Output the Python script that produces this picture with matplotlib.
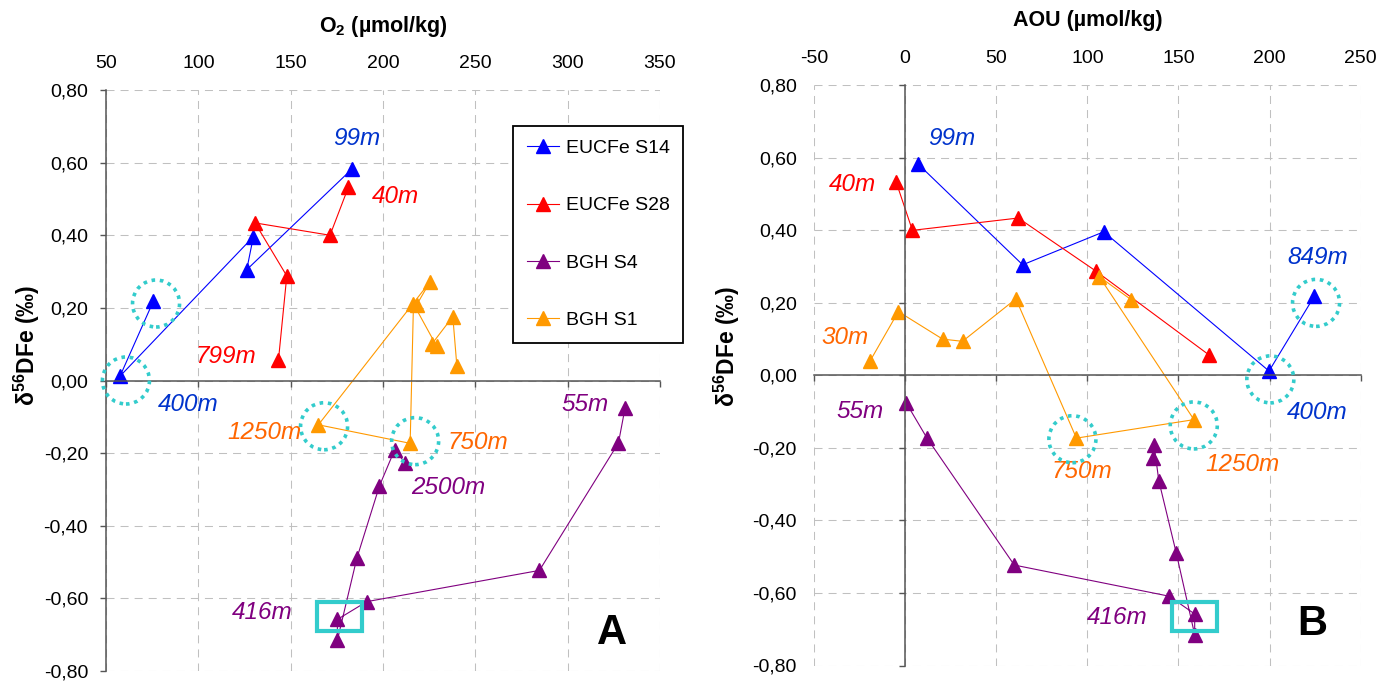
import numpy as np
import matplotlib
matplotlib.use('Agg')
import matplotlib.pyplot as plt
from matplotlib.ticker import MultipleLocator, FuncFormatter
from matplotlib.patches import Circle, Rectangle
from matplotlib.transforms import ScaledTranslation

plt.rcParams['font.family'] = ['Liberation Sans', 'DejaVu Sans']
plt.rcParams['mathtext.fontset'] = 'custom'
plt.rcParams['mathtext.rm'] = 'Liberation Sans'
plt.rcParams['mathtext.bf'] = 'Liberation Sans:bold'
plt.rcParams['axes.unicode_minus'] = False

# data
series = ['EUCFe S14', 'EUCFe S28', 'BGH S4', 'BGH S1']
colors = ['#0000FF', '#FF0000', '#800080', '#FF9900']

s14_o2 = [183.1, 126.2, 129.8, 57.6, 75.6]
s14_aou = [7.3, 64.5, 109.0, 199.7, 224.5]
s14_dfe = [0.582, 0.305, 0.396, 0.012, 0.218]

s28_o2 = [181.3, 171.3, 130.7, 147.9, 143.4]
s28_aou = [-4.9, 4.0, 62.1, 104.6, 166.6]
s28_dfe = [0.533, 0.400, 0.434, 0.288, 0.057]

s4_o2 = [331.1, 327.5, 284.7, 191.2, 175.3, 175.3, 185.8, 198.1, 206.3, 212.0]
s4_aou = [0.5, 11.9, 59.9, 145.0, 158.9, 158.9, 148.8, 139.2, 136.6, 135.9]
s4_dfe = [-0.075, -0.172, -0.523, -0.609, -0.658, -0.715, -0.490, -0.290, -0.191, -0.227]

s1_o2 = [240.0, 237.8, 226.4, 229.1, 216.5, 214.7, 165.0, 225.5, 218.3]
s1_aou = [-19.2, -3.7, 20.6, 31.5, 60.8, 94.0, 158.5, 106.6, 124.0]
s1_dfe = [0.040, 0.176, 0.100, 0.094, 0.211, -0.173, -0.122, 0.272, 0.209]

# depth labels: (x, y, text, colour)
labels_a = [(186, 0.667, '99m', '#0033CC'), (206.6, 0.507, '40m', '#FF0000'),
            (115, 0.066, '799m', '#FF0000'), (94.4, -0.066, '400m', '#0033CC'),
            (136.1, -0.143, '1250m', '#FF6600'), (251.5, -0.171, '750m', '#FF6600'),
            (235.3, -0.295, '2500m', '#800080'), (309.5, -0.066, '55m', '#800080'),
            (134.5, -0.639, '416m', '#800080')]
labels_b = [(25.7, 0.653, '99m', '#0033CC'), (-29, 0.526, '40m', '#FF0000'),
            (-32.9, 0.105, '30m', '#FF6600'), (226.2, 0.325, '849m', '#0033CC'),
            (226.2, -0.102, '400m', '#0033CC'), (-24.6, -0.099, '55m', '#800080'),
            (96.9, -0.264, '750m', '#FF6600'), (185.1, -0.245, '1250m', '#FF6600'),
            (116.6, -0.667, '416m', '#800080')]
rings_a = [(77.1, 0.212), (60.8, 0.0), (168.1, -0.126), (217.4, -0.167)]
rings_b = [(225.5, 0.200), (200.4, -0.011), (158.4, -0.138), (91.8, -0.176)]
box_a = (176.5, -0.651)
box_b = (158.8, -0.665)

cyan = '#33CCCC'
fig = plt.figure(figsize=(13.92, 6.82), dpi=100)
axA = fig.add_axes([106 / 1392, 1 - 671 / 682, 554 / 1392, 581 / 682])
axB = fig.add_axes([814 / 1392, 1 - 665.5 / 682, 546.7 / 1392, 580.2 / 682])


def ring(ax, x, y):
    tr = fig.dpi_scale_trans + ScaledTranslation(x, y, ax.transData)
    ax.add_patch(Circle((0, 0), 0.235, transform=tr, fill=False, ec=cyan,
                        lw=2.6, ls=(0, (1, 1.3)), clip_on=False, zorder=5))


def box(ax, x, y):
    tr = fig.dpi_scale_trans + ScaledTranslation(x, y, ax.transData)
    ax.add_patch(Rectangle((-0.225, -0.145), 0.45, 0.29, transform=tr, fill=False,
                           ec=cyan, lw=3.0, clip_on=False, zorder=5))


def style(ax, xlim, ylab_pad):
    ax.set_xlim(*xlim)
    ax.set_ylim(-0.8, 0.8)
    ax.xaxis.set_major_locator(MultipleLocator(50))
    ax.yaxis.set_major_locator(MultipleLocator(0.2))
    ax.yaxis.set_major_formatter(FuncFormatter(lambda v, p: f'{round(v, 2):.2f}'.replace('.', ',')))
    ax.set_axisbelow(True)
    ax.grid(True, color='#c0c0c0', lw=0.75, ls=(0, (7.7, 5.8)))
    for s in ['top', 'right']:
        ax.spines[s].set_visible(False)
    ax.spines['bottom'].set_position(('data', 0))
    for s in ['bottom', 'left']:
        ax.spines[s].set_color('#555555')
        ax.spines[s].set_linewidth(1.1)
    ax.tick_params(axis='x', bottom=True, top=False, labelbottom=False, labeltop=True,
                   direction='out', length=4.3, width=1, color='#555555', labelsize=14, pad=9)
    ax.tick_params(axis='y', direction='out', length=4.3, width=1, color='#555555',
                   labelsize=14, pad=ylab_pad)
    ax.xaxis.set_label_position('top')
    ax.set_ylabel(r'δ$^{\mathbf{56}}$DFe (‰)', fontsize=16.5, fontweight='bold')


style(axA, (50, 350), 8.6)
style(axB, (-50, 250), 73.7)
axB.spines['left'].set_position(('data', 0))
axA.yaxis.set_label_coords(-0.115, 0.56)
axB.yaxis.set_label_coords(-0.132, 0.55)

axA.set_xlabel(r'O$_{\mathbf{2}}$ (µmol/kg)', fontsize=15.5, fontweight='bold', labelpad=16)
axB.set_xlabel('AOU (µmol/kg)', fontsize=15.5, fontweight='bold', labelpad=17)

xs_a = [s14_o2, s28_o2, s4_o2, s1_o2]
xs_b = [s14_aou, s28_aou, s4_aou, s1_aou]
ys = [s14_dfe, s28_dfe, s4_dfe, s1_dfe]
for name, c, xa, xb, y in zip(series, colors, xs_a, xs_b, ys):
    axA.plot(xa, y, '-^', color=c, lw=0.8, ms=9.5, label=name, clip_on=False)
    axB.plot(xb, y, '-^', color=c, lw=0.8, ms=9.5, clip_on=False)

for ax, labs, rings, bx in [(axA, labels_a, rings_a, box_a), (axB, labels_b, rings_b, box_b)]:
    for x, y, t, c in labs:
        ax.text(x, y, t, color=c, fontsize=17.5, style='italic', ha='center', va='center')
    for x, y in rings:
        ring(ax, x, y)
    box(ax, *bx)

axA.text(324.1, -0.694, 'A', fontsize=30, fontweight='bold', ha='center', va='center')
axB.text(223.4, -0.686, 'B', fontsize=30, fontweight='bold', ha='center', va='center')

leg = axA.legend(loc='upper left', bbox_to_anchor=(513.3 / 1392, 1 - 126 / 682),
                 bbox_transform=fig.transFigure, fontsize=14, numpoints=1,
                 labelspacing=2.04, handlelength=1.65, handletextpad=0.35,
                 borderpad=0.7, borderaxespad=0, fancybox=False, framealpha=1)
leg.get_frame().set_edgecolor('black')
leg.get_frame().set_linewidth(1.3)

fig.savefig('out.png', dpi=100)
